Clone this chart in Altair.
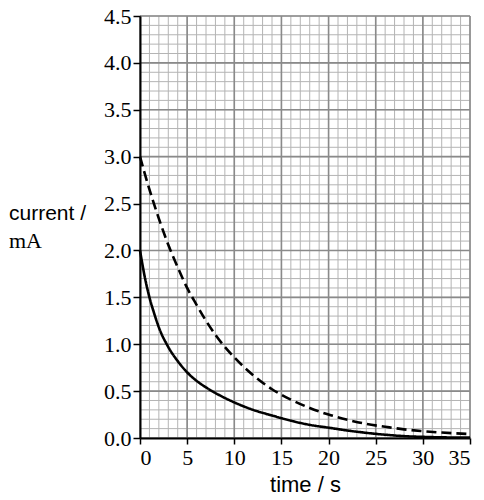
import altair as alt
import pandas as pd

# ---- data ----
time_solid = [0, 0.5, 1, 1.5, 2, 3, 4, 5, 6, 7, 8, 10, 12, 14, 16, 18, 20, 22, 24, 26, 28, 30, 32, 35]
current_solid = [2.0, 1.72, 1.5, 1.33, 1.18, 0.97, 0.82, 0.70, 0.61, 0.54, 0.48, 0.38, 0.30, 0.24,
                 0.185, 0.14, 0.11, 0.08, 0.055, 0.035, 0.02, 0.012, 0.007, 0.004]

time_dashed = [0, 1, 2, 3, 4, 5, 6, 7, 8, 10, 12, 14, 16, 18, 20, 22, 24, 26, 28, 30, 32, 35]
current_dashed = [3.0, 2.65, 2.34, 2.06, 1.82, 1.60, 1.42, 1.25, 1.10, 0.86, 0.67, 0.52, 0.41,
                  0.32, 0.25, 0.195, 0.15, 0.12, 0.092, 0.073, 0.058, 0.042]

x_ticks = [0, 5, 10, 15, 20, 25, 30, 35]
y_ticks = [0.0, 0.5, 1.0, 1.5, 2.0, 2.5, 3.0, 3.5, 4.0, 4.5]
x_minor = list(range(0, 36))
y_minor = [round(i * 0.1, 1) for i in range(0, 46)]

SERIF = "Liberation Serif"
SANS = "Liberation Sans"

curves = pd.DataFrame({
    "time": time_solid + time_dashed,
    "current": current_solid + current_dashed,
    "series": ["solid"] * len(time_solid) + ["dashed"] * len(time_dashed),
})

xs = alt.Scale(domain=[0, 35], nice=False, zero=False)
ys = alt.Scale(domain=[0, 4.5], nice=False, zero=False)

x_axis = alt.Axis(values=x_ticks, title="time / s", grid=False, format="d",
                  labelFont=SERIF, labelFontSize=22, labelColor="black",
                  labelPadding=3, tickSize=6, tickColor="black", tickWidth=1.5,
                  domainColor="black", domainWidth=2, zindex=1,
                  titleFont=SANS, titleFontSize=22, titleFontWeight="normal",
                  titleColor="black", titlePadding=6)
y_axis = alt.Axis(values=y_ticks, title=None, grid=False, format=".1f",
                  labelFont=SERIF, labelFontSize=22, labelColor="black",
                  labelPadding=2, tickSize=7, tickColor="black", tickWidth=1.5,
                  domainColor="black", domainWidth=2, zindex=1)

vminor = alt.Chart(pd.DataFrame({"time": x_minor})).mark_rule(color="#b4b4b4", strokeWidth=1).encode(
    x=alt.X("time:Q", scale=xs, axis=x_axis))
hminor = alt.Chart(pd.DataFrame({"current": y_minor})).mark_rule(color="#b4b4b4", strokeWidth=1).encode(
    y=alt.Y("current:Q", scale=ys, axis=y_axis))
vmajor = alt.Chart(pd.DataFrame({"time": x_ticks})).mark_rule(color="#8a8a8a", strokeWidth=1.6).encode(
    x=alt.X("time:Q", scale=xs, axis=x_axis))
hmajor = alt.Chart(pd.DataFrame({"current": y_ticks})).mark_rule(color="#8a8a8a", strokeWidth=1.6).encode(
    y=alt.Y("current:Q", scale=ys, axis=y_axis))

lines = alt.Chart(curves).mark_line(color="black", strokeWidth=2.6, interpolate="monotone").encode(
    x=alt.X("time:Q", scale=xs, axis=x_axis),
    y=alt.Y("current:Q", scale=ys, axis=y_axis),
    strokeDash=alt.StrokeDash("series:N",
                              scale=alt.Scale(domain=["solid", "dashed"], range=[[1, 0], [10, 5]]),
                              legend=None),
    detail="series:N",
)

ytitle1 = alt.Chart(pd.DataFrame({"t": ["current /"]})).mark_text(
    font=SANS, fontSize=21, align="left", baseline="alphabetic", color="black").encode(
    text="t:N", x=alt.value(-131), y=alt.value(204))
ytitle2 = alt.Chart(pd.DataFrame({"t": ["mA"]})).mark_text(
    font=SERIF, fontSize=22, align="left", baseline="alphabetic", color="black").encode(
    text="t:N", x=alt.value(-131), y=alt.value(232))

chart = alt.layer(vminor, hminor, vmajor, hmajor, lines, ytitle1, ytitle2).properties(
    width=330, height=422,
    autosize=alt.AutoSizeParams(type="none"),
    padding={"left": 132, "top": 8, "right": 6, "bottom": 60},
).configure_view(stroke=None)

chart.save("out.html", embed_options={"renderer": "svg", "actions": False})
